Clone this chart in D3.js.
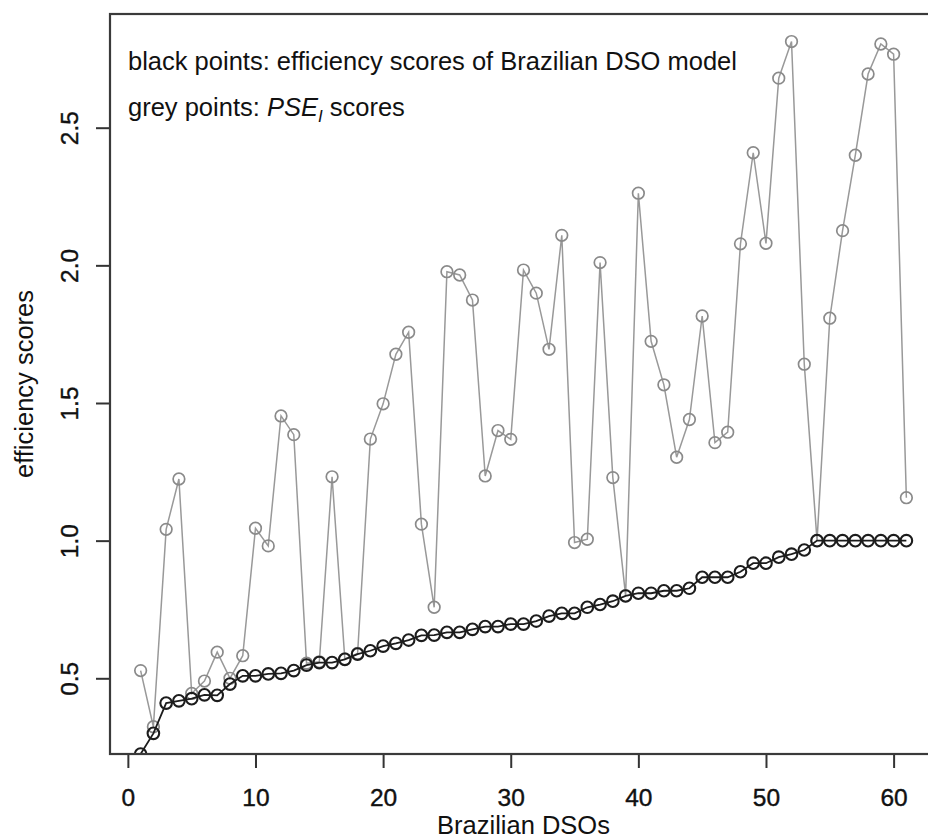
<!DOCTYPE html>
<html>
<head>
<meta charset="utf-8">
<script src="https://cdn.jsdelivr.net/npm/d3@7"></script>
<style>
  body { margin: 0; background: #fff; }
  text { font-family: "Liberation Sans", Arial, Helvetica, sans-serif; fill: #111; }
</style>
</head>
<body>
<div id="chart"></div>
<script>
// DSO index 1..61
const dso = d3.range(1, 62);

// black points: efficiency scores of the Brazilian DSO model (sorted)
const efficiency = [
  0.225, 0.300, 0.410, 0.418, 0.426, 0.440, 0.438, 0.479, 0.509, 0.509,
  0.516, 0.518, 0.528, 0.548, 0.557, 0.557, 0.569, 0.588, 0.600, 0.617,
  0.627, 0.639, 0.656, 0.657, 0.667, 0.667, 0.678, 0.688, 0.688, 0.697,
  0.697, 0.708, 0.726, 0.736, 0.736, 0.758, 0.768, 0.780, 0.799, 0.809,
  0.809, 0.818, 0.818, 0.827, 0.867, 0.867, 0.867, 0.887, 0.918, 0.918,
  0.940, 0.951, 0.966, 1.000, 1.000, 1.000, 1.000, 1.000, 1.000, 1.000,
  1.000
];

// grey points: PSE_I scores
const pse = [
  0.528, 0.324, 1.041, 1.224, 0.445, 0.490, 0.595, 0.500, 0.582, 1.045,
  0.981, 1.453, 1.385, 0.555, 0.560, 1.232, 0.570, 0.590, 1.369, 1.497,
  1.677, 1.757, 1.060, 0.758, 1.977, 1.965, 1.874, 1.235, 1.400, 1.368,
  1.983, 1.899, 1.695, 2.109, 0.993, 1.005, 2.010, 1.229, 0.800, 2.262,
  1.724, 1.566, 1.303, 1.440, 1.816, 1.356, 1.394, 2.078, 2.409, 2.080,
  2.680, 2.813, 1.641, 1.000, 1.808, 2.126, 2.400, 2.695, 2.804, 2.767,
  1.156
];

const xTicks = [0, 10, 20, 30, 40, 50, 60];
const yTicks = [0.5, 1.0, 1.5, 2.0, 2.5];

const width = 928, height = 840;
const box = { left: 110, right: 937, top: 14, bottom: 754 };

const svg = d3.select("#chart").append("svg")
  .attr("width", width)
  .attr("height", height);

const x = d3.scaleLinear().domain([-1.4, 63.4]).range([box.left, box.right]);
const y = d3.scaleLinear().domain([0.225, 2.913]).range([box.bottom, box.top]);

svg.append("clipPath").attr("id", "plot-clip")
  .append("rect")
  .attr("x", box.left).attr("y", box.top)
  .attr("width", box.right - box.left).attr("height", box.bottom - box.top);

const plot = svg.append("g").attr("clip-path", "url(#plot-clip)");

const line = d3.line()
  .x((d, i) => x(dso[i]))
  .y(d => y(d));

// grey series
plot.append("path")
  .datum(pse)
  .attr("d", line)
  .attr("fill", "none")
  .attr("stroke", "#999")
  .attr("stroke-width", 1.5);

plot.selectAll(".grey-pt")
  .data(pse)
  .join("circle")
  .attr("class", "grey-pt")
  .attr("cx", (d, i) => x(dso[i]))
  .attr("cy", d => y(d))
  .attr("r", 5.8)
  .attr("fill", "none")
  .attr("stroke", "#8a8a8a")
  .attr("stroke-width", 1.7);

// black series
plot.append("path")
  .datum(efficiency)
  .attr("d", line)
  .attr("fill", "none")
  .attr("stroke", "#1c1c1c")
  .attr("stroke-width", 1.8);

plot.selectAll(".black-pt")
  .data(efficiency)
  .join("circle")
  .attr("class", "black-pt")
  .attr("cx", (d, i) => x(dso[i]))
  .attr("cy", d => y(d))
  .attr("r", 5.8)
  .attr("fill", "none")
  .attr("stroke", "#1c1c1c")
  .attr("stroke-width", 2.1);

// axes
const xAxis = svg.append("g")
  .attr("transform", `translate(0,${box.bottom})`)
  .call(d3.axisBottom(x).tickValues(xTicks).tickSize(14).tickFormat(d3.format("d")));
xAxis.select(".domain").remove();
xAxis.selectAll(".tick line").attr("stroke", "#333").attr("stroke-width", 2);
xAxis.selectAll(".tick text")
  .attr("y", 52).attr("dy", 0)
  .style("font-size", "24.5px")
  .style("stroke", "#111").style("stroke-width", 0.4);

const yAxis = svg.append("g")
  .attr("transform", `translate(${box.left},0)`)
  .call(d3.axisLeft(y).tickValues(yTicks).tickSize(14).tickFormat(d3.format(".1f")));
yAxis.select(".domain").remove();
yAxis.selectAll(".tick line").attr("stroke", "#333").attr("stroke-width", 2);
yAxis.selectAll(".tick text")
  .attr("transform", "rotate(-90)")
  .attr("x", 0).attr("y", -32).attr("dy", 0)
  .attr("text-anchor", "middle")
  .style("font-size", "24.5px")
  .style("stroke", "#111").style("stroke-width", 0.4);

// plot frame
svg.append("rect")
  .attr("x", box.left).attr("y", box.top)
  .attr("width", box.right - box.left).attr("height", box.bottom - box.top)
  .attr("fill", "none")
  .attr("stroke", "#3a3a3a")
  .attr("stroke-width", 2.2);

// axis titles
svg.append("text")
  .attr("x", (box.left + box.right) / 2)
  .attr("y", 834)
  .attr("text-anchor", "middle")
  .style("font-size", "25.5px")
  .text("Brazilian DSOs");

svg.append("text")
  .attr("transform", `translate(33,${(box.top + box.bottom) / 2}) rotate(-90)`)
  .attr("text-anchor", "middle")
  .style("font-size", "25.5px")
  .text("efficiency scores");

// annotation
svg.append("text")
  .attr("x", 128).attr("y", 70)
  .style("font-size", "25.5px")
  .text("black points: efficiency scores of Brazilian DSO model");

const note = svg.append("text")
  .attr("x", 128).attr("y", 116)
  .style("font-size", "25.5px");
note.append("tspan").text("grey points: ");
note.append("tspan").style("font-style", "italic").text("PSE");
note.append("tspan").style("font-style", "italic").style("font-size", "17px")
  .attr("dy", 6).text("I");
note.append("tspan").attr("dy", -6).text(" scores");
</script>
</body>
</html>
